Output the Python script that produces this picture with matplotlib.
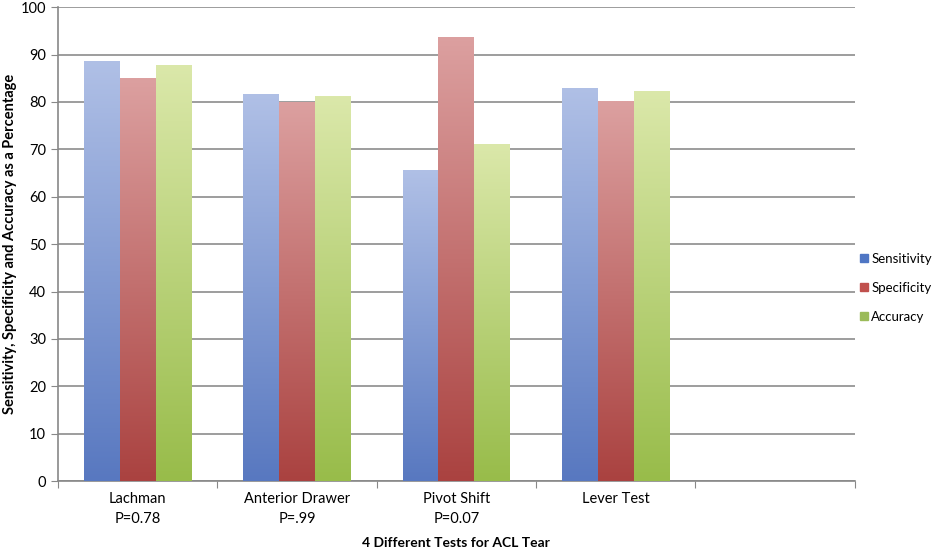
import matplotlib.pyplot as plt
import numpy as np
from matplotlib.colors import LinearSegmentedColormap

plt.rcParams['font.family'] = ['Lato', 'DejaVu Sans']

# Data
tests = ["Lachman\nP=0.78", "Anterior Drawer\nP=.99", "Pivot Shift\nP=0.07", "Lever Test", ""]
series_names = ["Sensitivity", "Specificity", "Accuracy"]
sensitivity = [88.7, 81.7, 65.7, 83.0]
specificity = [85.0, 80.0, 93.7, 80.1]
accuracy = [87.8, 81.2, 71.1, 82.3]

# gradient colours (top, bottom) and legend swatch colour
grads = [("#b0c0e6", "#5878c0"), ("#dca0a0", "#aa4240"), ("#dbe8aa", "#98bc4a")]
swatch = ["#4f76c4", "#c0504d", "#9bbb59"]

fig = plt.figure(figsize=(9.36, 5.48), dpi=100)
ax = fig.add_axes([0.062, 0.122, 0.851, 0.865])

width = 0.225
x = np.arange(4)
values = [sensitivity, specificity, accuracy]
for i, (vals, (ctop, cbot)) in enumerate(zip(values, grads)):
    cmap = LinearSegmentedColormap.from_list("g%d" % i, [cbot, ctop])
    bars = ax.bar(x + (i - 1) * width, vals, width, color=swatch[i], label=series_names[i], zorder=2)
    for b in bars:
        x0, w, h = b.get_x(), b.get_width(), b.get_height()
        grad = np.linspace(0, 1, 256).reshape(-1, 1)
        im = ax.imshow(grad, cmap=cmap, extent=[x0, x0 + w, 0, h], origin='lower',
                       aspect='auto', zorder=3)
        im.set_clip_path(b)
        b.set_alpha(0)

ax.set_xlim(-0.5, 4.5)
ax.set_ylim(0, 100)
ax.set_yticks(np.arange(0, 101, 10))
ax.set_xticks(np.arange(-0.5, 4.6, 1.0))
ax.set_xticklabels([])
ax.set_xticks(np.arange(5), minor=True)
ax.set_xticklabels(tests, minor=True, fontsize=10.5, linespacing=1.55)
ax.tick_params(axis='x', which='minor', length=0, pad=8)
ax.tick_params(axis='x', which='major', length=5, color='#888888')
ax.tick_params(axis='y', length=5, color='#888888', labelsize=10.5)
ax.grid(axis='y', color='#8c8c8c', linewidth=1.2, zorder=0)
ax.set_axisbelow(True)
for s in ['top', 'right']:
    ax.spines[s].set_visible(False)
for s in ['left', 'bottom']:
    ax.spines[s].set_color('#888888')
    ax.spines[s].set_linewidth(1.2)

fig.text(0.011, 0.555, "Sensitivity, Specificity and Accuracy as a Percentage", fontsize=10.5,
         fontweight='bold', rotation=90, ha='center', va='center')
ax.set_xlabel("4 Different Tests for ACL Tear", fontsize=10, fontweight='bold', labelpad=8)

handles = [plt.Rectangle((0, 0), 1, 1, color=c) for c in swatch]
fig.legend(handles, series_names, loc='center left', bbox_to_anchor=(0.913, 0.475),
           frameon=False, fontsize=9.5, handlelength=0.6, handleheight=0.6,
           handletextpad=0.25, labelspacing=1.3, borderaxespad=0.2, borderpad=0.2)

fig.savefig("out.png", dpi=100)
